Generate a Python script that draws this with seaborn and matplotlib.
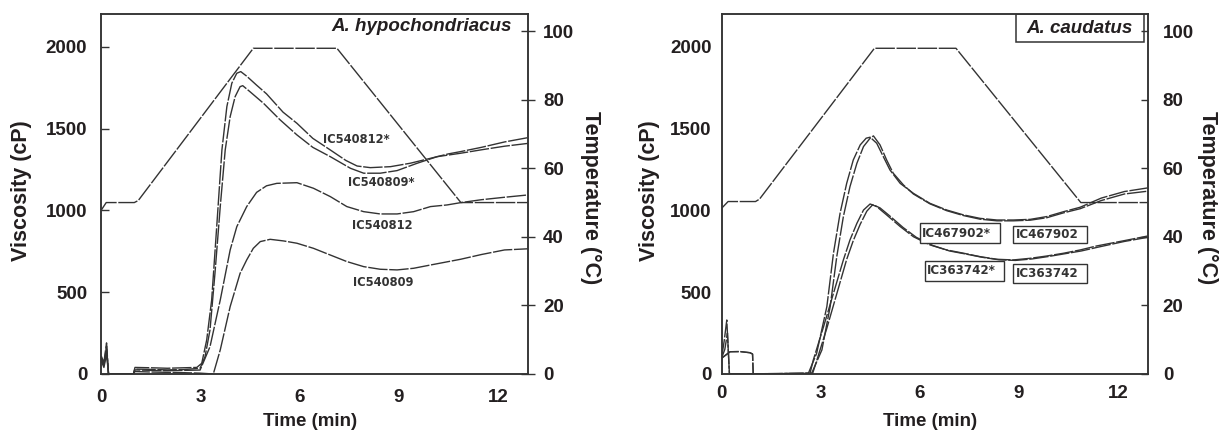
import numpy as np
import pandas as pd
import matplotlib
matplotlib.use("Agg")
import matplotlib.pyplot as plt
from matplotlib.patches import Rectangle
import seaborn as sns

# temperature profile (same program both panels)
hyp_temp_t = [0, 0.15, 1.0, 1.12, 4.6, 7.13, 10.88, 12.9]
hyp_temp_c = [47.8, 50, 50, 50.6, 95, 95, 50, 50]
cau_temp_t = [0, 0.2, 1.03, 1.15, 4.63, 7.1, 10.88, 12.9]
cau_temp_c = [48.3, 50.3, 50.3, 51, 95, 95, 50, 50]

# A. hypochondriacus viscosity (cP)
ic540812s_t = [0, 0.08, 0.16, 0.22, 0.97, 1.02, 1.5, 2.0, 2.5, 2.89, 3.04, 3.19, 3.34, 3.5, 3.65, 3.8,
               3.95, 4.1, 4.22, 4.4, 4.7, 5.0, 5.5, 5.92, 6.4, 6.93, 7.4, 7.74, 8.14, 8.75, 9.35, 9.96,
               10.5, 10.87, 11.5, 12.2, 12.9]
ic540812s_v = [110, 70, 190, 0, 0, 40, 38, 35, 38, 40, 65, 208, 452, 921, 1369, 1634,
               1777, 1838, 1848, 1820, 1765, 1712, 1600, 1532, 1440, 1369, 1305, 1271, 1261, 1267, 1288, 1318,
               1345, 1359, 1385, 1418, 1444]
ic540809s_t = [0, 0.08, 0.16, 0.22, 0.97, 1.02, 1.5, 2.0, 2.5, 2.99, 3.14, 3.29, 3.44, 3.6, 3.75, 3.9,
               4.05, 4.2, 4.28, 4.5, 4.91, 5.4, 5.92, 6.4, 6.93, 7.54, 7.94, 8.44, 8.95, 9.56, 10.16,
               10.87, 11.5, 12.2, 12.9]
ic540809s_v = [100, 60, 170, 0, 0, 30, 28, 25, 27, 35, 106, 269, 615, 1023, 1369, 1573,
               1695, 1756, 1762, 1725, 1654, 1555, 1461, 1385, 1328, 1257, 1227, 1227, 1243, 1288, 1328,
               1349, 1370, 1392, 1409]
ic540812_t = [0, 0.08, 0.16, 0.22, 0.97, 1.02, 1.5, 2.0, 2.5, 2.99, 3.29, 3.6, 3.9, 4.1, 4.4, 4.7, 5.0,
              5.31, 5.92, 6.42, 6.93, 7.43, 7.94, 8.44, 8.95, 9.45, 9.96, 10.46, 10.87, 11.5, 12.2, 12.9]
ic540812_v = [90, 50, 150, 0, 0, 25, 22, 20, 22, 24, 167, 452, 758, 900, 1023, 1110, 1150,
              1165, 1169, 1135, 1084, 1023, 992, 978, 978, 992, 1023, 1033, 1047, 1065, 1080, 1094]
ic540809_t = [0, 0.08, 0.16, 0.22, 0.97, 1.02, 1.5, 2.0, 2.5, 3.0, 3.39, 3.6, 3.9, 4.2, 4.4, 4.6, 4.81,
              5.11, 5.52, 5.92, 6.42, 6.93, 7.43, 7.94, 8.44, 8.95, 9.45, 9.96, 10.87, 11.5, 12.2, 12.9]
ic540809_v = [80, 40, 120, 0, 0, 15, 12, 10, 8, 5, 0, 147, 412, 615, 697, 768, 809,
              823, 813, 799, 768, 727, 687, 656, 640, 636, 646, 666, 701, 730, 758, 765]

# A. caudatus viscosity (cP)
ic467902s_t = [0, 0.08, 0.16, 0.24, 2.63, 2.88, 3.19, 3.39, 3.59, 3.79, 3.99, 4.2, 4.38, 4.5, 4.7, 4.9,
               5.1, 5.41, 5.81, 6.31, 6.82, 7.33, 7.83, 8.34, 8.84, 9.35, 9.85, 10.36, 10.86, 11.5, 12.2, 12.9]
ic467902s_v = [96, 200, 330, 0, 4, 126, 412, 738, 982, 1165, 1308, 1400, 1441, 1447, 1410, 1328,
               1247, 1165, 1104, 1043, 1002, 972, 951, 941, 941, 945, 962, 992, 1019, 1075, 1115, 1137]
ic467902_t = [0, 0.26, 0.56, 0.86, 0.94, 0.96, 2.73, 3.04, 3.29, 3.49, 3.69, 3.89, 4.1, 4.3, 4.5, 4.6,
              4.8, 5.0, 5.2, 5.51, 5.81, 6.31, 6.82, 7.33, 7.83, 8.34, 8.84, 9.35, 9.85, 10.36, 10.86,
              11.5, 12.2, 12.9]
ic467902_v = [96, 136, 137, 130, 122, 0, 4, 147, 412, 717, 962, 1145, 1288, 1390, 1441, 1455,
              1400, 1308, 1227, 1155, 1100, 1040, 998, 968, 946, 936, 936, 940, 955, 985, 1010,
              1060, 1100, 1117]
ic363742s_t = [0, 0.1, 0.18, 0.24, 2.68, 2.78, 3.09, 3.39, 3.69, 3.89, 4.1, 4.3, 4.5, 4.7, 5.0, 5.41,
               5.81, 6.31, 6.82, 7.33, 7.83, 8.34, 8.84, 9.35, 9.85, 10.36, 10.86, 11.35, 12.2, 12.9]
ic363742s_v = [96, 150, 250, 0, 4, 86, 289, 493, 697, 819, 921, 1002, 1039, 1023, 972, 901,
               839, 789, 758, 738, 717, 701, 697, 707, 721, 738, 758, 782, 815, 843]
ic363742_t = [0, 0.26, 0.56, 0.86, 0.94, 0.96, 2.76, 2.88, 3.19, 3.49, 3.79, 3.99, 4.2, 4.4, 4.58, 4.8,
              5.1, 5.5, 5.9, 6.4, 6.9, 7.4, 7.9, 8.4, 8.9, 9.4, 9.9, 10.4, 10.9, 11.4, 12.2, 12.9]
ic363742_v = [96, 136, 137, 130, 122, 0, 4, 80, 280, 490, 700, 815, 915, 995, 1035, 1015,
              965, 895, 835, 785, 752, 733, 713, 698, 694, 703, 718, 735, 752, 775, 810, 835]

hyp_labels = ["IC540812*", "IC540809*", "IC540812", "IC540809"]
hyp_label_pos = [(7.73, 1430), (8.46, 1169), (8.5, 906), (8.52, 558)]
cau_labels = ["IC467902*", "IC467902", "IC363742*", "IC363742"]
cau_label_pos = [(6.08, 860), (8.9, 854), (6.23, 632), (8.9, 613)]
# label frames: (t0, t1, v0, v1)
cau_label_box = [(6.02, 8.44, 799, 921), (8.83, 11.07, 802, 905),
                 (6.17, 8.56, 570, 691), (8.83, 11.07, 554, 672)]

sns.set_style("white")
plt.rcParams["font.family"] = ["Liberation Sans", "DejaVu Sans"]
plt.rcParams["font.weight"] = "bold"
plt.rcParams["axes.labelweight"] = "bold"

ink = "#231f20"
line_kw = dict(color="#333333", linewidth=1.0, estimator=None, sort=False,
               linestyle=(0, (14, 1.2)))

fig = plt.figure(figsize=(12.2, 4.32), dpi=100)
ax1 = fig.add_axes([0.0830, 0.1343, 0.3495, 0.8333])
ax2 = fig.add_axes([0.5914, 0.1343, 0.3492, 0.8333])
ax1t = ax1.twinx()
ax2t = ax2.twinx()

for t, v in [(ic540812s_t, ic540812s_v), (ic540809s_t, ic540809s_v),
             (ic540812_t, ic540812_v), (ic540809_t, ic540809_v)]:
    sns.lineplot(x=t, y=v, ax=ax1, **line_kw)
sns.lineplot(x=hyp_temp_t, y=hyp_temp_c, ax=ax1t, **line_kw)

for t, v in [(ic467902s_t, ic467902s_v), (ic467902_t, ic467902_v),
             (ic363742s_t, ic363742s_v), (ic363742_t, ic363742_v)]:
    sns.lineplot(x=t, y=v, ax=ax2, **line_kw)
sns.lineplot(x=cau_temp_t, y=cau_temp_c, ax=ax2t, **line_kw)

for ax, axt in [(ax1, ax1t), (ax2, ax2t)]:
    ax.set_xlim(0, 12.9)
    ax.set_ylim(0, 2200)
    axt.set_ylim(0, 105)
    ax.set_xticks([0, 3, 6, 9, 12])
    ax.set_yticks([0, 500, 1000, 1500, 2000])
    axt.set_yticks([0, 20, 40, 60, 80, 100])
    for sp in list(ax.spines.values()) + list(axt.spines.values()):
        sp.set_color("#333333")
        sp.set_linewidth(1.1)
    ax.set_xlabel("Time (min)", fontsize=13.5, color=ink)
    ax.set_ylabel("Viscosity (cP)", fontsize=15.5, color=ink)
    axt.set_ylabel("Temperature (°C)", fontsize=15.5, color=ink, rotation=270)
    ax.xaxis.label.set_verticalalignment("center")
    ax.yaxis.label.set_verticalalignment("center")
    axt.yaxis.label.set_verticalalignment("center")
    ax.xaxis.set_label_coords(0.49, -0.133)
    ax.tick_params(labelsize=13.5, labelcolor=ink, color="#333333")
    axt.tick_params(labelsize=13.5, labelcolor=ink, color="#333333")

# left panel tick style
ax1.set_xticks(range(13), minor=True)
ax1.tick_params(axis="x", which="both", direction="out", length=6, width=1.0, pad=5)
ax1.tick_params(axis="y", direction="in", length=6, width=1.0, pad=10)
ax1t.tick_params(axis="y", direction="inout", length=10, width=1.0, pad=6)
ax1.yaxis.set_label_coords(-0.188, 0.51)
ax1t.yaxis.set_label_coords(1.148, 0.49)

# right panel tick style
ax2.tick_params(axis="x", length=0, pad=8)
ax2.tick_params(axis="y", length=0, pad=7)
ax2t.tick_params(axis="y", direction="in", length=5, width=1.0, pad=11)
ax2.yaxis.set_label_coords(-0.170, 0.51)
ax2t.yaxis.set_label_coords(1.141, 0.49)

# titles
ax1.text(0.962, 0.99, "A. hypochondriacus", transform=ax1.transAxes, ha="right", va="top",
         fontsize=13.5, style="italic", color=ink)
ax2.add_patch(Rectangle((0.692, 0.922), 0.299, 0.078, transform=ax2.transAxes,
                        fill=False, edgecolor="#333333", linewidth=1.1, zorder=5))
ax2.text(0.8415, 0.961, "A. caudatus", transform=ax2.transAxes, ha="center", va="center",
         fontsize=13.5, style="italic", color=ink)

# curve labels
for lab, (x, y) in zip(hyp_labels, hyp_label_pos):
    ax1.text(x, y, lab, ha="center", va="center", fontsize=8.3, color="#333333",
             family=["DejaVu Sans"])
for lab, (x, y), (x0, x1, y0, y1) in zip(cau_labels, cau_label_pos, cau_label_box):
    ax2.add_patch(Rectangle((x0, y0), x1 - x0, y1 - y0, facecolor="white",
                            edgecolor="#333333", linewidth=1.0, zorder=4))
    ax2.text(x, y, lab, ha="left", va="center", fontsize=8.6, color="#333333",
             family=["DejaVu Sans"], zorder=5)

fig.savefig("out.png", dpi=100)
